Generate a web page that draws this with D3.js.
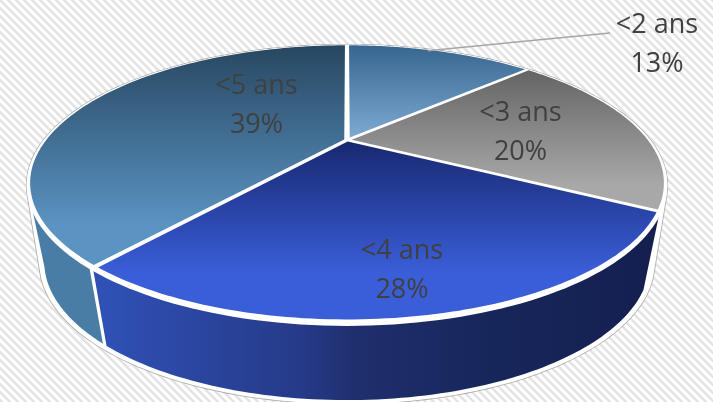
<!DOCTYPE html>
<html><head><meta charset="utf-8">
<script src="https://cdn.jsdelivr.net/npm/d3@7"></script>
<style>html,body{margin:0;padding:0;background:#fff;overflow:hidden}svg{display:block;filter:blur(0.45px)}text{font-family:"Open Sans","Noto Sans",sans-serif}</style>
</head><body><script>
const categories = ["<2 ans", "<3 ans", "<4 ans", "<5 ans"];
const shares = [13, 20, 28, 39];
const width = 713, height = 402;

const svg = d3.select("body").append("svg").attr("width", width).attr("height", height);
const defs = svg.append("defs");

// background hatching (falling to the right)
const pat = defs.append("pattern").attr("id","hatch").attr("patternUnits","userSpaceOnUse")
  .attr("width",8).attr("height",8);
pat.append("rect").attr("width",8).attr("height",8).attr("fill","#fff");
pat.append("path").attr("d","M-2,6 L2,10 M0,0 L8,8 M6,-2 L10,2")
  .attr("stroke","#e3e3e3").attr("stroke-width",2.4);
svg.append("rect").attr("width",width).attr("height",height).attr("fill","url(#hatch)");

// perspective view of the pie plane
const cx = 347, cy = 140, A = 302, B = 125.5, k = 0.321;
const project = (a, r) => {
  const u = r * Math.sin(a), v = r * Math.cos(a), w = 1 + k * v;
  return [cx + A * u / w, cy - B * v / w];
};
const depth = 78, shrink = 0.96;
const drop = p => [cx + (p[0] - cx) * shrink, p[1] + depth];

const pie = d3.pie().sort(null).value(d => d)(shares);
const line = d3.line();
const arcAngles = (a0, a1, n = 90) => d3.range(n + 1).map(i => a0 + (a1 - a0) * i / n);

const topGrad = [
  ["#36658f", "#7fabd3", 45, 140],
  ["#646464", "#a8a8a8", 70, 185],
  ["#18276f", "#3a5ed8", 140, 272],
  ["#274761", "#5b93c2", 45, 225]
];
topGrad.forEach((g, i) => {
  const lg = defs.append("linearGradient").attr("id","top"+i).attr("gradientUnits","userSpaceOnUse")
    .attr("x1",0).attr("x2",0).attr("y1",g[2]).attr("y2",g[3]);
  lg.append("stop").attr("offset",0).attr("stop-color",g[0]);
  lg.append("stop").attr("offset",1).attr("stop-color",g[1]);
});
const wallGrad = defs.append("linearGradient").attr("id","wall2").attr("gradientUnits","userSpaceOnUse")
  .attr("x1",107).attr("x2",660).attr("y1",0).attr("y2",0);
[[0,"#2f50b4"],[0.35,"#263a88"],[0.45,"#1f2f6d"],[0.7,"#17265a"],[1,"#141f4f"]].forEach(s =>
  wallGrad.append("stop").attr("offset",s[0]).attr("stop-color",s[1]));

// silhouette: white body with thin grey edge
const full = arcAngles(0, 2 * Math.PI, 240);
const rimTop = full.map(a => project(a, 1.004));
const rimBot = rimTop.map(drop);
const hullPath = line(d3.polygonHull(rimTop.concat(rimBot))) + "Z";
svg.append("path").attr("d",hullPath).attr("fill","#fff").attr("stroke","#a9a9a9").attr("stroke-width",1.6);
svg.append("path").attr("d",hullPath).attr("fill","#fff");

// visible walls: only the two slices that face the viewer
const wallLimit = Math.PI + 1.21, gapA = 0.008;
[2, 3].forEach(i => {
  const d = pie[i];
  const a0 = d.startAngle + gapA;
  const a1 = i === 3 ? wallLimit : d.endAngle - gapA;
  const up = arcAngles(a0, a1).map(a => project(a, 1.0));
  const dn = arcAngles(a1, a0).map(a => drop(project(a, 0.99)));
  svg.append("path").attr("d", line(up.concat(dn)) + "Z")
    .attr("fill", i === 2 ? "url(#wall2)" : "#4a7da6");
});

// white rim (thicker toward the viewer) and radial gaps on the top face
svg.append("path").attr("d", line(rimTop) + "Z").attr("fill","#fff");
const gap = 0.009;
const rInner = a => {
  const v = Math.cos(a);
  return v < 0 ? 0.996 - 0.016 * v * v : 0.996;
};
pie.forEach((d, i) => {
  const half = (d.endAngle - d.startAngle) / 2, mid = (d.startAngle + d.endAngle) / 2;
  const apex = project(mid, gap / Math.sin(half));
  const da = Math.asin(gap);
  const rim = arcAngles(d.startAngle + da, d.endAngle - da).map(a => project(a, rInner(a)));
  svg.append("path").attr("d", line([apex].concat(rim)) + "Z").attr("fill", `url(#top${i})`);
});

// leader line for the first slice
const leaderStart = project(pie[0].startAngle + 0.36, 0.985);
svg.append("path").attr("d", line([leaderStart, [610, 33]]))
  .attr("fill","none").attr("stroke","#a6a6a6").attr("stroke-width",1.5);

// labels
const labelPos = [[657, 72], [520.5, 160], [402, 298], [256.5, 133]];
categories.forEach((c, i) => {
  const t = svg.append("text").attr("text-anchor","middle").attr("fill","#404040").attr("font-size",27);
  t.append("tspan").attr("x",labelPos[i][0]).attr("y",labelPos[i][1] - 39).text(c);
  t.append("tspan").attr("x",labelPos[i][0]).attr("y",labelPos[i][1]).text(shares[i] + "%");
});
</script></body></html>
